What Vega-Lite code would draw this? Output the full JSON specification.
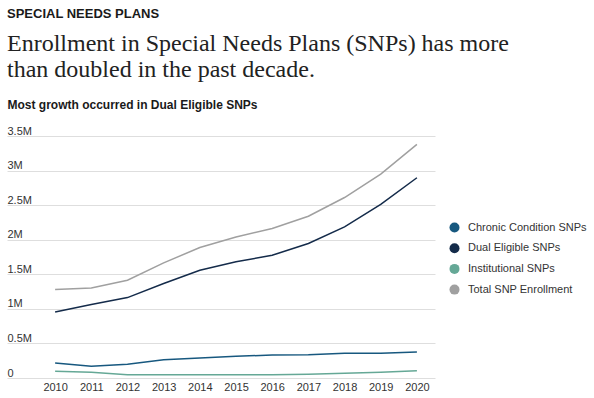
{
  "$schema": "https://vega.github.io/schema/vega-lite/v6.json",
  "width": 428,
  "height": 242,
  "autosize": {"type": "none"},
  "padding": {"left": 7, "top": 136, "right": 159, "bottom": 20},
  "background": "white",
  "title": {
    "text": "SPECIAL NEEDS PLANS",
    "subtitle": ["Enrollment in Special Needs Plans (SNPs) has more", "than doubled in the past decade."],
    "anchor": "start",
    "frame": "group",
    "font": "Liberation Sans",
    "fontSize": 13,
    "fontWeight": "bold",
    "color": "#1a1a1a",
    "subtitleFont": "Liberation Serif",
    "subtitleFontSize": 24,
    "subtitleColor": "#222222",
    "subtitleLineHeight": 26,
    "subtitlePadding": 11,
    "offset": 16
  },
  "data": {
    "values": [
      {"year": 2010, "series": "Chronic Condition SNPs", "value": 217000},
      {"year": 2011, "series": "Chronic Condition SNPs", "value": 169000},
      {"year": 2012, "series": "Chronic Condition SNPs", "value": 198000},
      {"year": 2013, "series": "Chronic Condition SNPs", "value": 265000},
      {"year": 2014, "series": "Chronic Condition SNPs", "value": 290000},
      {"year": 2015, "series": "Chronic Condition SNPs", "value": 314000},
      {"year": 2016, "series": "Chronic Condition SNPs", "value": 333000},
      {"year": 2017, "series": "Chronic Condition SNPs", "value": 338000},
      {"year": 2018, "series": "Chronic Condition SNPs", "value": 357000},
      {"year": 2019, "series": "Chronic Condition SNPs", "value": 357000},
      {"year": 2020, "series": "Chronic Condition SNPs", "value": 376000},
      {"year": 2010, "series": "Dual Eligible SNPs", "value": 956000},
      {"year": 2011, "series": "Dual Eligible SNPs", "value": 1062000},
      {"year": 2012, "series": "Dual Eligible SNPs", "value": 1163000},
      {"year": 2013, "series": "Dual Eligible SNPs", "value": 1366000},
      {"year": 2014, "series": "Dual Eligible SNPs", "value": 1559000},
      {"year": 2015, "series": "Dual Eligible SNPs", "value": 1680000},
      {"year": 2016, "series": "Dual Eligible SNPs", "value": 1776000},
      {"year": 2017, "series": "Dual Eligible SNPs", "value": 1945000},
      {"year": 2018, "series": "Dual Eligible SNPs", "value": 2186000},
      {"year": 2019, "series": "Dual Eligible SNPs", "value": 2510000},
      {"year": 2020, "series": "Dual Eligible SNPs", "value": 2896000},
      {"year": 2010, "series": "Institutional SNPs", "value": 97000},
      {"year": 2011, "series": "Institutional SNPs", "value": 82000},
      {"year": 2012, "series": "Institutional SNPs", "value": 48000},
      {"year": 2013, "series": "Institutional SNPs", "value": 48000},
      {"year": 2014, "series": "Institutional SNPs", "value": 48000},
      {"year": 2015, "series": "Institutional SNPs", "value": 48000},
      {"year": 2016, "series": "Institutional SNPs", "value": 48000},
      {"year": 2017, "series": "Institutional SNPs", "value": 53000},
      {"year": 2018, "series": "Institutional SNPs", "value": 68000},
      {"year": 2019, "series": "Institutional SNPs", "value": 82000},
      {"year": 2020, "series": "Institutional SNPs", "value": 106000},
      {"year": 2010, "series": "Total SNP Enrollment", "value": 1279000},
      {"year": 2011, "series": "Total SNP Enrollment", "value": 1303000},
      {"year": 2012, "series": "Total SNP Enrollment", "value": 1414000},
      {"year": 2013, "series": "Total SNP Enrollment", "value": 1665000},
      {"year": 2014, "series": "Total SNP Enrollment", "value": 1887000},
      {"year": 2015, "series": "Total SNP Enrollment", "value": 2040000},
      {"year": 2016, "series": "Total SNP Enrollment", "value": 2162000},
      {"year": 2017, "series": "Total SNP Enrollment", "value": 2340000},
      {"year": 2018, "series": "Total SNP Enrollment", "value": 2610000},
      {"year": 2019, "series": "Total SNP Enrollment", "value": 2950000},
      {"year": 2020, "series": "Total SNP Enrollment", "value": 3380000}
    ]
  },
  "mark": {"type": "line", "strokeWidth": 1.5},
  "encoding": {
    "x": {
      "field": "year",
      "type": "quantitative",
      "scale": {"domain": [2008.67, 2020.5], "nice": false, "zero": false},
      "axis": {
        "values": [2010, 2011, 2012, 2013, 2014, 2015, 2016, 2017, 2018, 2019, 2020],
        "format": "d",
        "title": null,
        "domain": false,
        "ticks": false,
        "grid": false,
        "labelPadding": 3,
        "labelFont": "Liberation Sans",
        "labelFontSize": 11,
        "labelColor": "#333333"
      }
    },
    "y": {
      "field": "value",
      "type": "quantitative",
      "scale": {"domain": [0, 3500000], "nice": false},
      "axis": {
        "title": "Most growth occurred in Dual Eligible SNPs",
        "titleAngle": 0,
        "titleAlign": "left",
        "titleBaseline": "alphabetic",
        "titleX": 0,
        "titleY": -28,
        "titleFont": "Liberation Sans",
        "titleFontSize": 12,
        "titleFontWeight": "bold",
        "titleColor": "#1a1a1a",
        "values": [0, 500000, 1000000, 1500000, 2000000, 2500000, 3000000, 3500000],
        "labelExpr": "datum.value == 0 ? '0' : (datum.value / 1000000) + 'M'",
        "labelAlign": "left",
        "labelBaseline": "alphabetic",
        "labelOffset": -2,
        "labelPadding": 0,
        "ticks": false,
        "tickSize": 0,
        "domain": false,
        "grid": true,
        "gridColor": "#dedede",
        "gridWidth": 1,
        "labelFont": "Liberation Sans",
        "labelFontSize": 11,
        "labelColor": "#333333"
      }
    },
    "color": {
      "field": "series",
      "type": "nominal",
      "scale": {
        "domain": ["Chronic Condition SNPs", "Dual Eligible SNPs", "Institutional SNPs", "Total SNP Enrollment"],
        "range": ["#17587f", "#142b4a", "#65a896", "#a0a0a0"]
      },
      "legend": {
        "title": null,
        "orient": "none",
        "legendX": 442,
        "legendY": 86,
        "symbolType": "circle",
        "symbolSize": 100,
        "symbolStrokeWidth": 0,
        "labelOffset": 8,
        "labelFont": "Liberation Sans",
        "labelFontSize": 11,
        "labelColor": "#333333",
        "rowPadding": 8.7,
        "encode": {
          "symbols": {"update": {"fill": {"scale": "color", "field": "value"}, "strokeWidth": {"value": 0}}}
        }
      }
    }
  },
  "config": {"view": {"stroke": null}}
}
